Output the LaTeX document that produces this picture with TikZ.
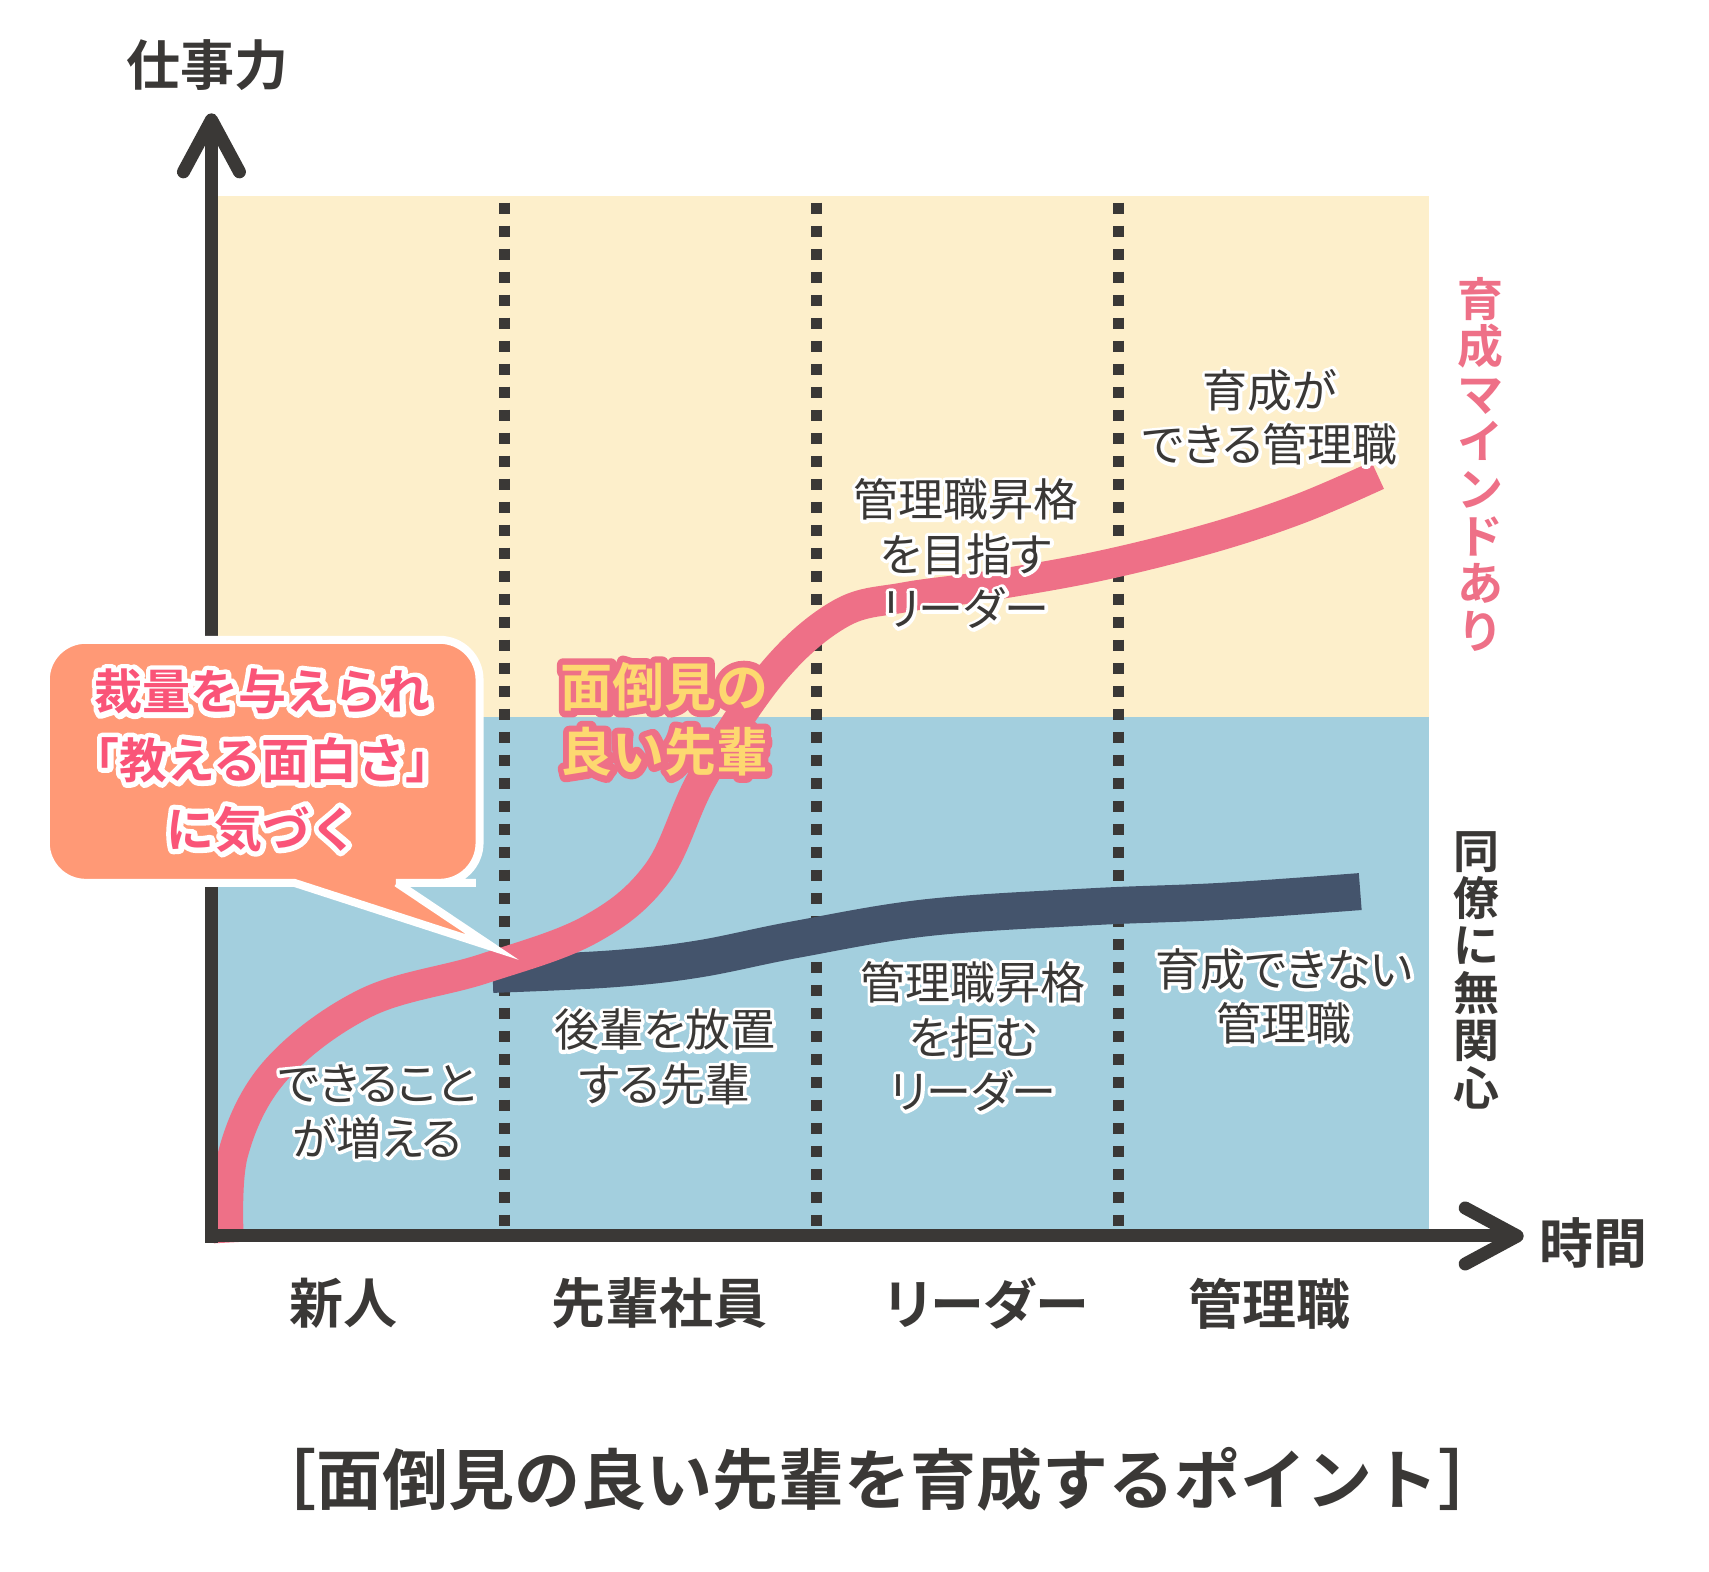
\documentclass[tikz,border=0pt]{standalone}
\usepackage{fontspec}
\setmainfont{Noto Sans CJK JP}[BoldFont={Noto Sans CJK JP Bold}]
\newfontfamily\kanafont{Noto Sans CJK JP}[RawFeature=+palt]
\newfontfamily\kanabold{Noto Sans CJK JP Bold}[RawFeature=+palt]
% stroked copies for the halo behind a text
\newfontfamily\glowkana{Noto Sans CJK JP}[RawFeature=+palt, FakeBold=15]
\newfontfamily\glowbold{Noto Sans CJK JP Bold}[FakeBold=20]
\newfontfamily\glowgold{Noto Sans CJK JP Bold}[FakeBold=24]
\usetikzlibrary{arrows.meta, positioning}

\definecolor{inkgray}{RGB}{58,56,54}
\definecolor{bandyellow}{RGB}{253,239,203}
\definecolor{bandblue}{RGB}{163,207,222}
\definecolor{growpink}{RGB}{238,112,135}
\definecolor{stallnavy}{RGB}{68,84,108}
\definecolor{bubbleorange}{RGB}{255,153,118}
\definecolor{alertpink}{RGB}{250,84,120}
\definecolor{goldtext}{RGB}{253,216,112}

\newcommand{\halo}[3]{\leavevmode\rlap{\special{pdf:literal direct 1 j 1 J}#1\color{#2}#3}#3}
\newcommand{\wglow}[1]{\halo{\glowkana}{white}{#1}}
\newcommand{\bglow}[1]{\halo{\glowbold}{white}{#1}}
\newcommand{\pglow}[1]{\halo{\glowgold}{growpink}{#1}}

\tikzstyle{axisline} = [draw=inkgray, line width=13pt, -{Straight Barb[length=52pt, width=56pt, round]}]
\tikzstyle{phaseline} = [draw=inkgray, line width=11pt, dash pattern=on 11pt off 12pt]
\tikzstyle{growcurve} = [draw=growpink, line width=30pt]
\tikzstyle{flatcurve} = [draw=stallnavy, line width=37pt]
\tikzstyle{bubble} = [fill=bubbleorange, draw=white, line width=8pt]
\tikzstyle{lbl} = [text=inkgray, align=center, font=\kanafont\fontsize{45pt}{54.5pt}\selectfont]
\tikzstyle{axislbl} = [text=inkgray, font=\kanabold\fontsize{54pt}{60pt}\selectfont]
\tikzstyle{titlelbl} = [text=inkgray, font=\bfseries\fontsize{66pt}{72pt}\selectfont]
\tikzstyle{vlbl} = [align=center, inner sep=0pt, font=\bfseries\fontsize{46pt}{47.4pt}\selectfont]
\tikzstyle{calloutlbl} = [text=alertpink, align=center, font=\bfseries\fontsize{48pt}{68.7pt}\selectfont]
\tikzstyle{praiselbl} = [text=goldtext, align=center, font=\bfseries\fontsize{52pt}{65.4pt}\selectfont]

\begin{document}
\begin{tikzpicture}[x=1.09pt, y=-1.09pt]
	\useasboundingbox (0,0) rectangle (1568,1442);
	% bands
	\fill[bandyellow] (200,180) rectangle (1311,658);
	\fill[bandblue] (200,658) rectangle (1311,1135);
	\foreach \x in {463,749,1026}
		\draw[phaseline] (\x,186) -- (\x,1130);
	% curves
	\draw[flatcurve] plot[smooth, tension=0.6] coordinates {(452,894) (560,889) (640,880) (730,862) (850,842) (1000,832) (1120,827) (1248,818)};
	\draw[growcurve] plot[smooth, tension=0.6] coordinates {(210,1140) (214,1058) (253,982) (336,920) (443,889) (541,853) (603,801) (645,713) (709,617) (771,563) (830,548) (910,537) (1010,519) (1110,494) (1192,467) (1264,436)};
	% axes
	\coordinate (yfoot) at (194,1140);
	\coordinate (ytip) at (194,104);
	\coordinate (xfoot) at (188,1134);
	\coordinate (xtip) at (1398,1134);
	\draw[axisline] (yfoot) -- (ytip);
	\draw[axisline] (xfoot) -- (xtip);
	\node[axislbl] (power) at (190,60) {仕事力};
	\node[axislbl] (time) at (1462,1140) {時間};
	\node[axislbl] (newbie) at (315,1196) {新人};
	\node[axislbl] (senior) at (605,1196) {先輩社員};
	\node[axislbl] (leader) at (905,1196) {リーダー};
	\node[axislbl] (manager) at (1165,1196) {管理職};
	\node[vlbl, text=growpink] (mind) at (1358,426) {育\\成\\マ\\イ\\ン\\ド\\あ\\り};
	\node[vlbl, text=inkgray] (apathy) at (1355,890) {同\\僚\\に\\無\\関\\心};
	% stage labels
	\node[lbl] (grow) at (346,1020) {\wglow{できること}\\\wglow{が増える}};
	\node[lbl] (neglect) at (610,970) {\wglow{後輩を放置}\\\wglow{する先輩}};
	\node[lbl] (refuse) at (893,951) {\wglow{管理職昇格}\\\wglow{を拒む}\\\wglow{リーダー}};
	\node[lbl] (cannot) at (1178,914) {\wglow{育成できない}\\\wglow{管理職}};
	\node[lbl] (aim) at (886,508) {\wglow{管理職昇格}\\\wglow{を目指す}\\\wglow{リーダー}};
	\node[lbl] (can) at (1165,383) {\wglow{育成が}\\\wglow{できる管理職}};
	\node[praiselbl] (caring) at (610,660) {\pglow{面倒見の}\\\pglow{良い先輩}};
	% callout
	\draw[bubble] (241,587) [rounded corners=40pt] -- (440,587) -- (440,810) -- (400,810) [sharp corners] -- (364,810) -- (452,869) -- (270,810) -- (230,810) [rounded corners=40pt] -- (42,810) -- (42,587) -- cycle;
	\node[calloutlbl] (notice) at (241,698) {\bglow{裁量を与えられ}\\\bglow{「教える面白さ」}\\\bglow{に気づく}};
	\node[titlelbl] (title) at (805,1357) {［面倒見の良い先輩を育成するポイント］};
\end{tikzpicture}
\end{document}
